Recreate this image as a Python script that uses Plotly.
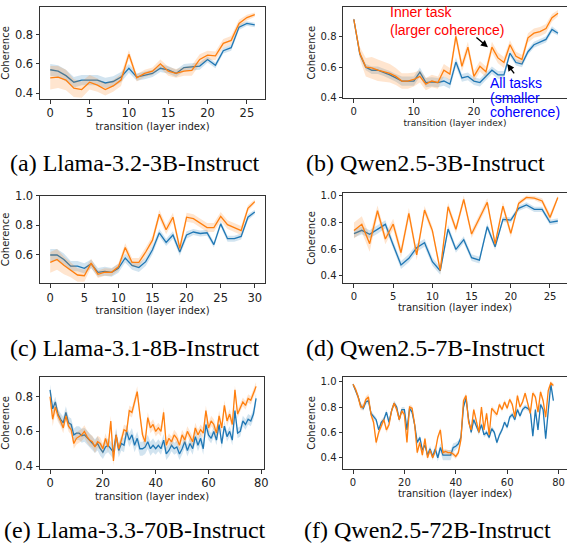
import plotly.graph_objects as go

W, H = 567, 547

# ---------------- data ----------------
# (a) Llama-3.2-3B-Instruct
a_all = [0.56, 0.55, 0.52, 0.475, 0.49, 0.49, 0.49, 0.47, 0.48, 0.51, 0.57, 0.51, 0.52, 0.535, 0.57, 0.56,
         0.535, 0.575, 0.58, 0.585, 0.63, 0.59, 0.69, 0.71, 0.85, 0.875, 0.865]
a_all_err = [0.04, 0.04, 0.04, 0.035, 0.035, 0.035, 0.035, 0.035, 0.035, 0.035, 0.03, 0.025, 0.025, 0.025,
             0.025, 0.025, 0.025, 0.025, 0.025, 0.025, 0.02, 0.02, 0.02, 0.02, 0.02, 0.015, 0.015]
a_inner = [0.505, 0.51, 0.49, 0.435, 0.425, 0.475, 0.455, 0.425, 0.45, 0.49, 0.665, 0.505, 0.535, 0.55, 0.60,
           0.55, 0.535, 0.55, 0.555, 0.63, 0.66, 0.655, 0.74, 0.76, 0.875, 0.915, 0.935]
a_inner_err = [0.08, 0.075, 0.07, 0.06, 0.055, 0.05, 0.045, 0.04, 0.04, 0.04, 0.03, 0.025, 0.025, 0.025, 0.03,
               0.03, 0.03, 0.03, 0.035, 0.035, 0.03, 0.03, 0.03, 0.03, 0.025, 0.02, 0.015]

# (b) Qwen2.5-3B-Instruct
b_all = [0.91, 0.685, 0.60, 0.58, 0.58, 0.567, 0.55, 0.53, 0.51, 0.51, 0.51, 0.567, 0.50, 0.505, 0.50, 0.51,
         0.49, 0.633, 0.53, 0.54, 0.51, 0.50, 0.54, 0.58, 0.55, 0.55, 0.69, 0.63, 0.62, 0.70, 0.745, 0.765,
         0.78, 0.845, 0.82]
b_all_err = [0.01, 0.02, 0.02, 0.025, 0.025, 0.025, 0.025, 0.025, 0.03, 0.03, 0.03, 0.03, 0.03, 0.03, 0.03,
             0.03, 0.03, 0.03, 0.025, 0.025, 0.025, 0.025, 0.025, 0.025, 0.025, 0.025, 0.02, 0.02, 0.02, 0.02,
             0.02, 0.02, 0.02, 0.02, 0.015]
b_inner = [0.91, 0.69, 0.60, 0.595, 0.58, 0.57, 0.56, 0.54, 0.51, 0.51, 0.52, 0.54, 0.49, 0.51, 0.50, 0.58,
           0.555, 0.80, 0.605, 0.73, 0.54, 0.605, 0.57, 0.73, 0.66, 0.63, 0.745, 0.67, 0.65, 0.79, 0.82, 0.83,
           0.85, 0.92, 0.95]
b_inner_err = [0.01, 0.04, 0.06, 0.07, 0.07, 0.065, 0.06, 0.055, 0.05, 0.05, 0.045, 0.04, 0.04, 0.04, 0.04,
               0.04, 0.04, 0.035, 0.035, 0.035, 0.035, 0.035, 0.035, 0.035, 0.035, 0.035, 0.03, 0.03, 0.03,
               0.03, 0.03, 0.03, 0.03, 0.025, 0.02]

# (c) Llama-3.1-8B-Instruct
c_all = [0.60, 0.60, 0.57, 0.525, 0.525, 0.51, 0.54, 0.483, 0.49, 0.483, 0.51, 0.58, 0.53, 0.515, 0.555, 0.635,
         0.75, 0.685, 0.735, 0.62, 0.735, 0.755, 0.745, 0.75, 0.67, 0.81, 0.71, 0.71, 0.725, 0.855, 0.89]
c_all_err = [0.04, 0.04, 0.04, 0.035, 0.035, 0.035, 0.03, 0.03, 0.03, 0.03, 0.03, 0.03, 0.03, 0.03, 0.03, 0.03,
             0.025, 0.025, 0.025, 0.025, 0.025, 0.02, 0.02, 0.02, 0.02, 0.02, 0.02, 0.02, 0.02, 0.02, 0.015]
c_inner = [0.55, 0.57, 0.53, 0.50, 0.465, 0.46, 0.545, 0.47, 0.485, 0.483, 0.52, 0.65, 0.55, 0.55, 0.62, 0.70,
           0.875, 0.77, 0.855, 0.645, 0.855, 0.845, 0.815, 0.785, 0.785, 0.86, 0.805, 0.785, 0.765, 0.915, 0.96]
c_inner_err = [0.07, 0.07, 0.06, 0.05, 0.045, 0.04, 0.03, 0.025, 0.025, 0.025, 0.025, 0.03, 0.03, 0.03, 0.03,
               0.03, 0.03, 0.03, 0.03, 0.03, 0.03, 0.03, 0.03, 0.03, 0.03, 0.03, 0.03, 0.03, 0.03, 0.02, 0.015]

# (d) Qwen2.5-7B-Instruct
d_all = [0.715, 0.74, 0.71, 0.745, 0.785, 0.63, 0.48, 0.53, 0.61, 0.647, 0.505, 0.437, 0.75, 0.597, 0.67, 0.535,
         0.517, 0.767, 0.617, 0.822, 0.817, 0.905, 0.93, 0.897, 0.897, 0.80, 0.81]
d_all_err = [0.03, 0.03, 0.03, 0.03, 0.03, 0.03, 0.03, 0.03, 0.03, 0.03, 0.03, 0.03, 0.03, 0.025, 0.025, 0.025,
             0.025, 0.025, 0.025, 0.02, 0.02, 0.02, 0.02, 0.02, 0.02, 0.02, 0.02]
d_inner = [0.738, 0.785, 0.64, 0.887, 0.675, 0.787, 0.572, 0.867, 0.555, 0.892, 0.738, 0.44, 0.917, 0.748, 0.972,
           0.712, 0.83, 0.95, 0.638, 0.922, 0.717, 0.942, 0.987, 0.982, 0.96, 0.837, 0.987]
d_inner_err = [0.06, 0.06, 0.06, 0.04, 0.04, 0.04, 0.04, 0.04, 0.04, 0.03, 0.03, 0.03, 0.03, 0.03, 0.03, 0.03,
               0.03, 0.03, 0.03, 0.03, 0.03, 0.02, 0.015, 0.015, 0.02, 0.03, 0.015]

# (e) Llama-3.3-70B-Instruct
e_all = [0.84, 0.73, 0.77, 0.70, 0.67, 0.65, 0.71, 0.65, 0.64, 0.58,
         0.59, 0.59, 0.575, 0.58, 0.565, 0.55, 0.53, 0.515, 0.53, 0.50,
         0.48, 0.51, 0.52, 0.50, 0.48, 0.58, 0.49, 0.53, 0.52, 0.60,
         0.55, 0.58, 0.52, 0.56, 0.50, 0.50, 0.51, 0.54, 0.50, 0.52,
         0.50, 0.52, 0.50, 0.55, 0.47, 0.49, 0.52, 0.50, 0.51, 0.47,
         0.50, 0.54, 0.49, 0.53, 0.50, 0.57, 0.52, 0.56, 0.50, 0.64,
         0.58, 0.56, 0.60, 0.55, 0.64, 0.53, 0.63, 0.57, 0.60, 0.55,
         0.72, 0.59, 0.60, 0.66, 0.64, 0.67, 0.66, 0.70, 0.79]
e_all_err = [0.03, 0.03, 0.03, 0.03, 0.035, 0.035, 0.035, 0.035, 0.035, 0.035,
             0.04, 0.04, 0.04, 0.04, 0.04, 0.04, 0.04, 0.04, 0.04, 0.04,
             0.04, 0.04, 0.04, 0.04, 0.04, 0.04, 0.04, 0.04, 0.04, 0.04,
             0.04, 0.04, 0.04, 0.04, 0.04, 0.04, 0.04, 0.04, 0.04, 0.04,
             0.035, 0.035, 0.035, 0.035, 0.035, 0.035, 0.035, 0.035, 0.035, 0.035,
             0.035, 0.035, 0.035, 0.035, 0.035, 0.035, 0.035, 0.035, 0.035, 0.035,
             0.03, 0.03, 0.03, 0.03, 0.03, 0.03, 0.03, 0.03, 0.03, 0.03,
             0.03, 0.03, 0.03, 0.03, 0.03, 0.03, 0.03, 0.03, 0.03]
e_inner = [0.80, 0.67, 0.74, 0.69, 0.66, 0.62, 0.69, 0.63, 0.61, 0.53,
           0.56, 0.57, 0.58, 0.60, 0.57, 0.55, 0.54, 0.51, 0.54, 0.53,
           0.50, 0.56, 0.51, 0.66, 0.43, 0.58, 0.50, 0.55, 0.61, 0.60,
           0.72, 0.71, 0.77, 0.83, 0.70, 0.58, 0.54, 0.68, 0.62, 0.64,
           0.60, 0.62, 0.60, 0.71, 0.52, 0.56, 0.54, 0.58, 0.56, 0.52,
           0.58, 0.55, 0.60, 0.57, 0.54, 0.62, 0.58, 0.61, 0.59, 0.72,
           0.62, 0.66, 0.64, 0.59, 0.69, 0.62, 0.75, 0.66, 0.70, 0.64,
           0.84, 0.70, 0.74, 0.77, 0.75, 0.79, 0.78, 0.82, 0.86]
e_inner_err = [0.04, 0.04, 0.035, 0.035, 0.03, 0.03, 0.03, 0.03, 0.03, 0.03,
               0.035, 0.035, 0.035, 0.035, 0.035, 0.035, 0.035, 0.035, 0.035, 0.035,
               0.03, 0.03, 0.03, 0.03, 0.03, 0.03, 0.03, 0.03, 0.03, 0.03,
               0.03, 0.03, 0.03, 0.03, 0.03, 0.03, 0.03, 0.03, 0.03, 0.03,
               0.03, 0.03, 0.03, 0.03, 0.03, 0.03, 0.03, 0.03, 0.03, 0.03,
               0.03, 0.03, 0.03, 0.03, 0.03, 0.03, 0.03, 0.03, 0.03, 0.03,
               0.03, 0.03, 0.03, 0.03, 0.03, 0.03, 0.03, 0.03, 0.03, 0.03,
               0.025, 0.025, 0.025, 0.025, 0.025, 0.025, 0.025, 0.025, 0.025]

# (f) Qwen2.5-72B-Instruct
f_all = [0.98, 0.93, 0.88, 0.81, 0.79, 0.84, 0.85, 0.75, 0.72, 0.70,
         0.62, 0.68, 0.70, 0.76, 0.68, 0.77, 0.83, 0.80, 0.70, 0.78,
         0.78, 0.62, 0.79, 0.76, 0.66, 0.52, 0.56, 0.46, 0.50, 0.42,
         0.47, 0.41, 0.47, 0.40, 0.48, 0.42, 0.42, 0.42, 0.42, 0.48,
         0.49, 0.51, 0.56, 0.80, 0.87, 0.70, 0.60, 0.70, 0.65, 0.60,
         0.66, 0.58, 0.60, 0.56, 0.63, 0.60, 0.52, 0.58, 0.62, 0.68,
         0.64, 0.72, 0.74, 0.70, 0.78, 0.73, 0.78, 0.80, 0.79, 0.77,
         0.57, 0.78, 0.62, 0.82, 0.78, 0.55, 0.77, 0.98, 0.85]
f_all_err = [0.01, 0.015, 0.02, 0.02, 0.02, 0.02, 0.02, 0.02, 0.02, 0.02,
             0.02, 0.02, 0.02, 0.02, 0.02, 0.02, 0.02, 0.02, 0.02, 0.02,
             0.02, 0.02, 0.02, 0.02, 0.02, 0.02, 0.02, 0.02, 0.02, 0.025,
             0.025, 0.025, 0.03, 0.03, 0.035, 0.04, 0.04, 0.04, 0.04, 0.035,
             0.03, 0.025, 0.02, 0.02, 0.02, 0.02, 0.02, 0.02, 0.02, 0.02,
             0.02, 0.02, 0.02, 0.02, 0.02, 0.02, 0.02, 0.02, 0.02, 0.02,
             0.02, 0.02, 0.02, 0.02, 0.02, 0.02, 0.02, 0.02, 0.02, 0.02,
             0.02, 0.02, 0.02, 0.02, 0.02, 0.02, 0.02, 0.015, 0.015]
f_inner = [0.98, 0.94, 0.88, 0.80, 0.80, 0.86, 0.88, 0.74, 0.68, 0.52,
           0.60, 0.65, 0.70, 0.62, 0.66, 0.77, 0.83, 0.78, 0.70, 0.77,
           0.74, 0.52, 0.80, 0.79, 0.66, 0.44, 0.52, 0.42, 0.55, 0.40,
           0.46, 0.40, 0.45, 0.56, 0.62, 0.44, 0.45, 0.44, 0.44, 0.43,
           0.41, 0.44, 0.54, 0.85, 0.89, 0.68, 0.62, 0.78, 0.70, 0.60,
           0.80, 0.62, 0.75, 0.58, 0.79, 0.76, 0.74, 0.82, 0.78, 0.84,
           0.79, 0.86, 0.82, 0.72, 0.89, 0.80, 0.84, 0.91, 0.82, 0.75,
           0.91, 0.88, 0.76, 0.92, 0.85, 0.72, 0.93, 0.99, 0.97]
f_inner_err = [0.01, 0.02, 0.025, 0.025, 0.025, 0.025, 0.025, 0.025, 0.03, 0.03,
               0.025, 0.025, 0.025, 0.025, 0.025, 0.02, 0.02, 0.02, 0.02, 0.02,
               0.02, 0.02, 0.02, 0.02, 0.02, 0.02, 0.02, 0.02, 0.02, 0.02,
               0.02, 0.02, 0.02, 0.02, 0.02, 0.02, 0.02, 0.02, 0.02, 0.02,
               0.02, 0.02, 0.02, 0.02, 0.02, 0.02, 0.02, 0.02, 0.02, 0.02,
               0.02, 0.02, 0.02, 0.02, 0.02, 0.02, 0.02, 0.02, 0.02, 0.02,
               0.02, 0.02, 0.02, 0.02, 0.02, 0.02, 0.02, 0.02, 0.02, 0.02,
               0.02, 0.02, 0.02, 0.02, 0.02, 0.02, 0.02, 0.015, 0.015]

captions = ["(a) Llama-3.2-3B-Instruct", "(b) Qwen2.5-3B-Instruct", "(c) Llama-3.1-8B-Instruct",
            "(d) Qwen2.5-7B-Instruct", "(e) Llama-3.3-70B-Instruct", "(f) Qwen2.5-72B-Instruct"]

x_title = "transition (layer index)"
y_title = "Coherence"

BLUE = "#1f77b4"
ORANGE = "#ff7f0e"
BLUE_FILL = "rgba(31,119,180,0.2)"
ORANGE_FILL = "rgba(255,127,14,0.2)"


def px_x(p):
    return p / W


def px_y(p):
    return 1 - p / H


# panel layout (pixel boxes): left, right, top, bottom
panels = [
    dict(all=a_all, all_err=a_all_err, inner=a_inner, inner_err=a_inner_err,
         box=(40, 265, 7, 99), xr=[-1.3, 27.3], yr=[0.361, 0.987], xt_vals=[0, 5, 10, 15, 20, 25],
         yt_vals=[0.4, 0.6, 0.8], right=False, tick=11.5, xt=10),
    dict(all=b_all, all_err=b_all_err, inner=b_inner, inner_err=b_inner_err,
         box=(343, 567, 7, 98.3), xr=[-1.8, 35.5], yr=[0.398, 0.99], xt_vals=[0, 10, 20],
         yt_vals=[0.4, 0.6, 0.8], right=True, tick=10, xt=9),
    dict(all=c_all, all_err=c_all_err, inner=c_inner, inner_err=c_inner_err,
         box=(40, 265, 195.7, 283.3), xr=[-1.5, 31.5], yr=[0.409, 1.0], xt_vals=[0, 5, 10, 15, 20, 25, 30],
         yt_vals=[0.6, 0.8, 1.0], right=False, tick=11.5, xt=10),
    dict(all=d_all, all_err=d_all_err, inner=d_inner, inner_err=d_inner_err,
         box=(343, 567, 193, 283), xr=[-1.4, 27.17], yr=[0.345, 1.02], xt_vals=[0, 5, 10, 15, 20, 25],
         yt_vals=[0.4, 0.6, 0.8, 1.0], right=True, tick=10, xt=10),
    dict(all=e_all, all_err=e_all_err, inner=e_inner, inner_err=e_inner_err,
         box=(40, 264, 377, 469), xr=[-3.8, 81.0], yr=[0.383, 0.914], xt_vals=[0, 20, 40, 60, 80],
         yt_vals=[0.4, 0.6, 0.8], right=False, tick=11.5, xt=10),
    dict(all=f_all, all_err=f_all_err, inner=f_inner, inner_err=f_inner_err,
         box=(343, 567, 377, 469), xr=[-3.9, 83.3], yr=[0.311, 1.037], xt_vals=[0, 20, 40, 60, 80],
         yt_vals=[0.4, 0.6, 0.8, 1.0], right=True, tick=10, xt=10),
]

fig = go.Figure()
layout = dict(width=W, height=H, margin=dict(l=0, r=0, t=0, b=0),
              paper_bgcolor="white", plot_bgcolor="white", showlegend=False,
              font=dict(family="DejaVu Sans", color="#222"))

for k, p in enumerate(panels):
    n = k + 1
    xs = "x" if n == 1 else f"x{n}"
    ys = "y" if n == 1 else f"y{n}"
    xs_name = "xaxis" if n == 1 else f"xaxis{n}"
    ys_name = "yaxis" if n == 1 else f"yaxis{n}"
    x = list(range(len(p["all"])))
    for vals, err, fillc, linec in ((p["all"], p["all_err"], BLUE_FILL, BLUE),
                                    (p["inner"], p["inner_err"], ORANGE_FILL, ORANGE)):
        upper = [v + e for v, e in zip(vals, err)]
        lower = [v - e for v, e in zip(vals, err)]
        fig.add_trace(go.Scatter(x=x + x[::-1], y=upper + lower[::-1], fill="toself",
                                 fillcolor=fillc, line=dict(width=0), mode="lines",
                                 hoverinfo="skip", xaxis=xs, yaxis=ys))
        fig.add_trace(go.Scatter(x=x, y=vals, mode="lines", line=dict(color=linec, width=1.3),
                                 xaxis=xs, yaxis=ys))
    l, r, t, b = p["box"]
    common = dict(showline=True, linecolor="#333", linewidth=1, ticks="outside", ticklen=3.5,
                  tickwidth=0.9, tickcolor="#333", showgrid=False, zeroline=False, automargin=False,
                  tickfont=dict(size=p["tick"], color="#222"))
    layout[xs_name] = dict(domain=[px_x(l), px_x(r)], range=p["xr"], anchor=ys, tickmode="array",
                           tickvals=p["xt_vals"], mirror=True,
                           title=dict(text=x_title, font=dict(size=p["xt"]), standoff=3), **common)
    layout[ys_name] = dict(domain=[px_y(b), px_y(t)], range=p["yr"], anchor=xs, tickmode="array",
                           tickvals=p["yt_vals"], tickformat=".1f", mirror=not p["right"],
                           title=dict(text=y_title, font=dict(size=10), standoff=3), **common)

annotations = []
cap_pos = [(135, 163), (425, 163), (135, 348), (425, 348), (135, 530), (427, 530)]
for txt, (cx, cy) in zip(captions, cap_pos):
    annotations.append(dict(text=txt, x=px_x(cx), y=px_y(cy), xref="paper", yref="paper",
                            showarrow=False, xanchor="center", yanchor="middle",
                            font=dict(family="Liberation Serif", size=24, color="black")))

# call-out labels in panel (b)
labels_b = [("Inner task", "red", 388, 12), ("(larger coherence)", "red", 388, 30),
            ("All tasks", "blue", 488, 83), ("(smaller", "blue", 488, 97.5), ("coherence)", "blue", 488, 112)]
for txt, col, lx, ly in labels_b:
    annotations.append(dict(text=txt, x=px_x(lx), y=px_y(ly), xref="paper", yref="paper",
                            showarrow=False, xanchor="left", yanchor="middle",
                            font=dict(family="Liberation Sans", size=14, color=col)))
# arrows pointing to the curves in panel (b)
annotations.append(dict(text="", x=22.33, y=0.729, xref="x2", yref="y2", ax=-13, ay=-11,
                        showarrow=True, arrowhead=2, arrowsize=1, arrowwidth=1.4, arrowcolor="black",
                        standoff=0))
annotations.append(dict(text="", x=25.55, y=0.621, xref="x2", yref="y2", ax=8, ay=11,
                        showarrow=True, arrowhead=2, arrowsize=1, arrowwidth=1.4, arrowcolor="black",
                        standoff=0))
layout["annotations"] = annotations

fig.update_layout(**layout)
fig.write_html("out.html")
